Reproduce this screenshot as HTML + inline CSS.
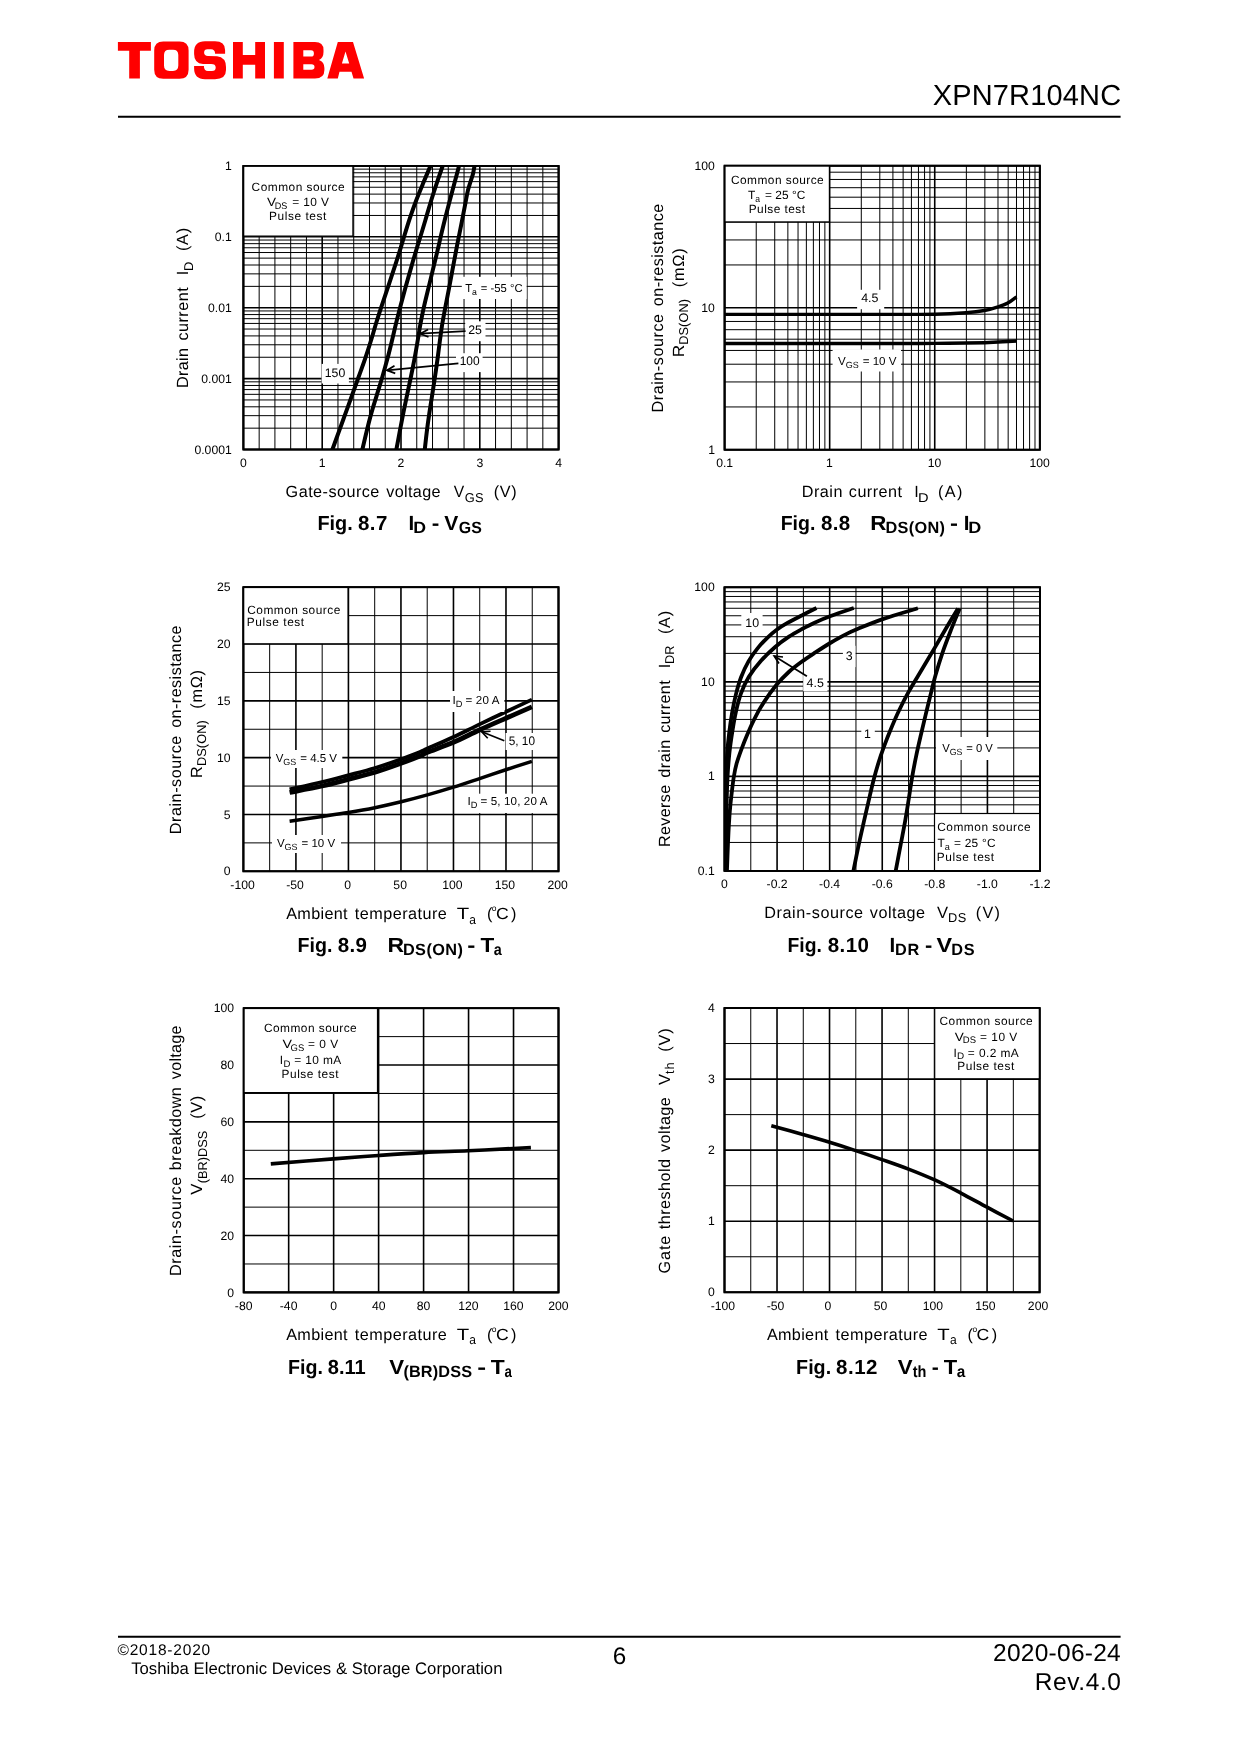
<!DOCTYPE html><html><head><meta charset="utf-8"><style>html,body{margin:0;padding:0;background:#fff}svg{display:block;will-change:transform}text{font-family:"Liberation Sans",sans-serif;text-rendering:geometricPrecision}</style></head><body>
<svg width="1240" height="1754" viewBox="0 0 1240 1754">
<rect width="1240" height="1754" fill="#fff"/>
<path d="M117.9 42H150.9V50.8H139.9V78.5H129.2V50.8H117.9Z" fill="#ff0000" fill-rule="evenodd"/>
<path d="M163.3 41.6H179.5Q188.6 41.6 188.6 50.6V69.8Q188.6 78.8 179.5 78.8H163.3Q154.2 78.8 154.2 69.8V50.6Q154.2 41.6 163.3 41.6Z M169.3 49.7Q164 49.7 164 55V65.6Q164 70.9 169.3 70.9H173Q178.3 70.9 178.3 65.6V55Q178.3 49.7 173 49.7Z" fill="#ff0000" fill-rule="evenodd"/>
<path d="M194.1 52Q194.1 41.2 205 41.2L215 41.2Q225.1 41.2 225.1 50L225.1 53.8L215.1 53.8Q215.1 49.2 211 49.2L207.5 49.2Q204.1 49.2 204.1 52.6Q204.1 56 208 56L217 56.3Q226 57.5 226 67L226 70Q226 79.2 215 79.2L205 79.2Q194.1 79.2 194.1 68L194.1 65.9L203.9 65.9Q203.9 71 208 71L212 71Q215.7 71 215.7 67.5Q215.7 64.1 211 64.1L203 64Q194.1 63.5 194.1 54Z" fill="#ff0000" fill-rule="evenodd"/>
<path d="M233 42H242.8V55.1H255.2V42H265V78.5H255.2V64.8H242.8V78.5H233Z" fill="#ff0000" fill-rule="evenodd"/>
<path d="M273.9 42H283.8V78.5H273.9Z" fill="#ff0000" fill-rule="evenodd"/>
<path d="M293.4 42L315 42Q323.5 42 323.5 50L323.5 52Q323.5 58 319 60Q324.4 62 324.4 68L324.4 70Q324.4 78.5 315 78.5L293.4 78.5Z M303.3 50.2V56.6H311Q313.9 56.6 313.9 53.4Q313.9 50.2 311 50.2Z M303.3 64.2V69.8H311.5Q314.5 69.8 314.5 67Q314.5 64.2 311.5 64.2Z" fill="#ff0000" fill-rule="evenodd"/>
<path d="M327.3 78.5L337.8 42L353 42L364.1 78.5L353.5 78.5L351.5 71.8L339.5 71.8L337.8 78.5Z M345.5 51.4L349.2 63.6L341.9 63.6Z" fill="#ff0000" fill-rule="evenodd"/>
<text x="932.67" y="105.2" font-size="29" textLength="188.41" lengthAdjust="spacing" fill="#000">XPN7R104NC</text>
<line x1="118" y1="116.8" x2="1120.6" y2="116.8" stroke="#000" stroke-width="2"/>
<line x1="118" y1="1636.8" x2="1120.6" y2="1636.8" stroke="#000" stroke-width="2"/>
<text x="117.47" y="1654.8" font-size="15.5" textLength="92.76" lengthAdjust="spacing" fill="#000">©2018-2020</text>
<text x="131.17" y="1673.7" font-size="16.7" textLength="371.28" lengthAdjust="spacing" fill="#000">Toshiba Electronic Devices &amp; Storage Corporation</text>
<text x="612.68" y="1664.3" font-size="24" textLength="13.52" lengthAdjust="spacingAndGlyphs" fill="#000">6</text>
<text x="992.98" y="1660.7" font-size="24.5" textLength="127.77" lengthAdjust="spacing" fill="#000">2020-06-24</text>
<text x="1034.84" y="1689.6" font-size="24.5" textLength="86.07" lengthAdjust="spacing" fill="#000">Rev.4.0</text>
<line x1="259.16" y1="165.9" x2="259.16" y2="449.5" stroke="#000" stroke-width="1"/>
<line x1="274.92" y1="165.9" x2="274.92" y2="449.5" stroke="#000" stroke-width="1"/>
<line x1="290.68" y1="165.9" x2="290.68" y2="449.5" stroke="#000" stroke-width="1"/>
<line x1="306.44" y1="165.9" x2="306.44" y2="449.5" stroke="#000" stroke-width="1"/>
<line x1="337.96" y1="165.9" x2="337.96" y2="449.5" stroke="#000" stroke-width="1"/>
<line x1="353.72" y1="165.9" x2="353.72" y2="449.5" stroke="#000" stroke-width="1"/>
<line x1="369.48" y1="165.9" x2="369.48" y2="449.5" stroke="#000" stroke-width="1"/>
<line x1="385.24" y1="165.9" x2="385.24" y2="449.5" stroke="#000" stroke-width="1"/>
<line x1="416.76" y1="165.9" x2="416.76" y2="449.5" stroke="#000" stroke-width="1"/>
<line x1="432.52" y1="165.9" x2="432.52" y2="449.5" stroke="#000" stroke-width="1"/>
<line x1="448.28" y1="165.9" x2="448.28" y2="449.5" stroke="#000" stroke-width="1"/>
<line x1="464.04" y1="165.9" x2="464.04" y2="449.5" stroke="#000" stroke-width="1"/>
<line x1="495.56" y1="165.9" x2="495.56" y2="449.5" stroke="#000" stroke-width="1"/>
<line x1="511.32" y1="165.9" x2="511.32" y2="449.5" stroke="#000" stroke-width="1"/>
<line x1="527.08" y1="165.9" x2="527.08" y2="449.5" stroke="#000" stroke-width="1"/>
<line x1="542.84" y1="165.9" x2="542.84" y2="449.5" stroke="#000" stroke-width="1"/>
<line x1="243.4" y1="428.16" x2="558.6" y2="428.16" stroke="#000" stroke-width="1"/>
<line x1="243.4" y1="415.67" x2="558.6" y2="415.67" stroke="#000" stroke-width="1"/>
<line x1="243.4" y1="406.81" x2="558.6" y2="406.81" stroke="#000" stroke-width="1"/>
<line x1="243.4" y1="399.94" x2="558.6" y2="399.94" stroke="#000" stroke-width="1"/>
<line x1="243.4" y1="394.33" x2="558.6" y2="394.33" stroke="#000" stroke-width="1"/>
<line x1="243.4" y1="389.58" x2="558.6" y2="389.58" stroke="#000" stroke-width="1"/>
<line x1="243.4" y1="385.47" x2="558.6" y2="385.47" stroke="#000" stroke-width="1"/>
<line x1="243.4" y1="381.84" x2="558.6" y2="381.84" stroke="#000" stroke-width="1"/>
<line x1="243.4" y1="357.26" x2="558.6" y2="357.26" stroke="#000" stroke-width="1"/>
<line x1="243.4" y1="344.77" x2="558.6" y2="344.77" stroke="#000" stroke-width="1"/>
<line x1="243.4" y1="335.91" x2="558.6" y2="335.91" stroke="#000" stroke-width="1"/>
<line x1="243.4" y1="329.04" x2="558.6" y2="329.04" stroke="#000" stroke-width="1"/>
<line x1="243.4" y1="323.43" x2="558.6" y2="323.43" stroke="#000" stroke-width="1"/>
<line x1="243.4" y1="318.68" x2="558.6" y2="318.68" stroke="#000" stroke-width="1"/>
<line x1="243.4" y1="314.57" x2="558.6" y2="314.57" stroke="#000" stroke-width="1"/>
<line x1="243.4" y1="310.94" x2="558.6" y2="310.94" stroke="#000" stroke-width="1"/>
<line x1="243.4" y1="286.36" x2="558.6" y2="286.36" stroke="#000" stroke-width="1"/>
<line x1="243.4" y1="273.87" x2="558.6" y2="273.87" stroke="#000" stroke-width="1"/>
<line x1="243.4" y1="265.01" x2="558.6" y2="265.01" stroke="#000" stroke-width="1"/>
<line x1="243.4" y1="258.14" x2="558.6" y2="258.14" stroke="#000" stroke-width="1"/>
<line x1="243.4" y1="252.53" x2="558.6" y2="252.53" stroke="#000" stroke-width="1"/>
<line x1="243.4" y1="247.78" x2="558.6" y2="247.78" stroke="#000" stroke-width="1"/>
<line x1="243.4" y1="243.67" x2="558.6" y2="243.67" stroke="#000" stroke-width="1"/>
<line x1="243.4" y1="240.04" x2="558.6" y2="240.04" stroke="#000" stroke-width="1"/>
<line x1="243.4" y1="215.46" x2="558.6" y2="215.46" stroke="#000" stroke-width="1"/>
<line x1="243.4" y1="202.97" x2="558.6" y2="202.97" stroke="#000" stroke-width="1"/>
<line x1="243.4" y1="194.11" x2="558.6" y2="194.11" stroke="#000" stroke-width="1"/>
<line x1="243.4" y1="187.24" x2="558.6" y2="187.24" stroke="#000" stroke-width="1"/>
<line x1="243.4" y1="181.63" x2="558.6" y2="181.63" stroke="#000" stroke-width="1"/>
<line x1="243.4" y1="176.88" x2="558.6" y2="176.88" stroke="#000" stroke-width="1"/>
<line x1="243.4" y1="172.77" x2="558.6" y2="172.77" stroke="#000" stroke-width="1"/>
<line x1="243.4" y1="169.14" x2="558.6" y2="169.14" stroke="#000" stroke-width="1"/>
<line x1="243.4" y1="165.9" x2="243.4" y2="449.5" stroke="#000" stroke-width="1.6"/>
<line x1="322.2" y1="165.9" x2="322.2" y2="449.5" stroke="#000" stroke-width="1.6"/>
<line x1="401" y1="165.9" x2="401" y2="449.5" stroke="#000" stroke-width="1.6"/>
<line x1="479.8" y1="165.9" x2="479.8" y2="449.5" stroke="#000" stroke-width="1.6"/>
<line x1="558.6" y1="165.9" x2="558.6" y2="449.5" stroke="#000" stroke-width="1.6"/>
<line x1="243.4" y1="449.5" x2="558.6" y2="449.5" stroke="#000" stroke-width="1.6"/>
<line x1="243.4" y1="378.6" x2="558.6" y2="378.6" stroke="#000" stroke-width="1.6"/>
<line x1="243.4" y1="307.7" x2="558.6" y2="307.7" stroke="#000" stroke-width="1.6"/>
<line x1="243.4" y1="236.8" x2="558.6" y2="236.8" stroke="#000" stroke-width="1.6"/>
<line x1="243.4" y1="165.9" x2="558.6" y2="165.9" stroke="#000" stroke-width="1.6"/>
<rect x="243.4" y="165.9" width="315.2" height="283.6" fill="none" stroke="#000" stroke-width="1.8"/>
<rect x="243.4" y="165.9" width="109.5" height="70.2" fill="#fff" stroke="#000" stroke-width="1.2"/>
<rect x="243.4" y="165.9" width="315.2" height="283.6" fill="none" stroke="#000" stroke-width="1.8"/>
<text x="251.6" y="190.7" font-size="11.9" textLength="93.04" lengthAdjust="spacing" fill="#000">Common source</text>
<text x="266.93" y="206.3" font-size="11.9" textLength="9.06" lengthAdjust="spacingAndGlyphs" fill="#000">V</text>
<text x="274.78" y="208.9" font-size="9.5" textLength="12.57" lengthAdjust="spacingAndGlyphs" fill="#000">DS</text>
<text x="292.2" y="206.3" font-size="11.9" textLength="36.7" lengthAdjust="spacing" fill="#000">= 10 V</text>
<text x="269.05" y="219.5" font-size="11.9" textLength="57.33" lengthAdjust="spacing" fill="#000">Pulse test</text>
<clipPath id="cl1"><rect x="243.4" y="165.9" width="315.2" height="283.6"/></clipPath>
<path d="M331.5 452 C332.75 448.57 336.66 437.82 338.98 431.43 C341.29 425.03 343.26 419.58 345.4 413.65 C347.54 407.72 349.64 401.9 351.82 395.82 C354.01 389.75 356.25 383.51 358.5 377.22 C360.75 370.94 363.22 364.3 365.33 358.1 C367.43 351.9 369.37 345.77 371.15 340 C372.93 334.23 374.28 329.11 376.02 323.48 C377.77 317.84 379.47 312.65 381.6 306.18 C383.73 299.7 386.38 291.99 388.82 284.6 C391.27 277.21 394.24 268.23 396.3 261.82 C398.36 255.42 399.75 250.89 401.2 246.18 C402.65 241.46 403.55 238.28 405.02 233.53 C406.5 228.77 408.21 223.12 410.05 217.65 C411.89 212.18 413.83 206.61 416.07 200.73 C418.32 194.84 420.92 188.64 423.53 182.35 C426.13 176.06 430.34 166.22 431.7 163" fill="none" stroke="#000" stroke-width="4" stroke-linecap="butt" stroke-linejoin="round" clip-path="url(#cl1)"/>
<path d="M361.8 452 C362.6 448.57 365.05 437.82 366.62 431.43 C368.2 425.03 369.56 419.58 371.23 413.65 C372.89 407.72 374.76 401.9 376.6 395.82 C378.44 389.75 380.42 383.51 382.25 377.22 C384.08 370.94 385.95 364.3 387.6 358.1 C389.25 351.9 390.72 345.77 392.12 340 C393.53 334.23 394.64 329.11 396.03 323.48 C397.41 317.84 398.71 312.65 400.43 306.18 C402.14 299.7 404.24 291.99 406.3 284.6 C408.36 277.21 410.92 268.23 412.77 261.82 C414.63 255.42 415.99 250.89 417.43 246.18 C418.86 241.46 419.93 238.28 421.38 233.53 C422.82 228.77 424.5 223.12 426.12 217.65 C427.75 212.18 429.28 206.61 431.1 200.73 C432.92 194.84 434.93 188.64 437.03 182.35 C439.12 176.06 442.59 166.22 443.7 163" fill="none" stroke="#000" stroke-width="4" stroke-linecap="butt" stroke-linejoin="round" clip-path="url(#cl1)"/>
<path d="M395.9 452 C396.55 448.57 398.56 437.82 399.77 431.43 C400.99 425.03 402.02 419.58 403.2 413.65 C404.38 407.72 405.6 401.9 406.88 395.82 C408.15 389.75 409.53 383.51 410.83 377.22 C412.12 370.94 413.46 364.3 414.62 358.1 C415.79 351.9 416.81 345.77 417.8 340 C418.79 334.23 419.5 329.11 420.55 323.48 C421.6 317.84 422.65 312.65 424.1 306.18 C425.55 299.7 427.49 291.99 429.28 284.6 C431.06 277.21 433.28 268.23 434.82 261.82 C436.37 255.42 437.45 250.89 438.55 246.18 C439.65 241.46 440.32 238.28 441.45 233.53 C442.57 228.77 443.92 223.12 445.3 217.65 C446.68 212.18 448.16 206.61 449.73 200.73 C451.29 194.84 453 188.64 454.68 182.35 C456.35 176.06 458.95 166.22 459.8 163" fill="none" stroke="#000" stroke-width="4" stroke-linecap="butt" stroke-linejoin="round" clip-path="url(#cl1)"/>
<path d="M424.5 452 C424.89 448.57 426.03 437.82 426.82 431.43 C427.62 425.03 428.4 419.58 429.28 413.65 C430.15 407.72 431.11 401.9 432.05 395.82 C432.99 389.75 433.99 383.51 434.92 377.22 C435.86 370.94 436.81 364.3 437.65 358.1 C438.49 351.9 439.19 345.77 439.98 340 C440.76 334.23 441.42 329.11 442.35 323.48 C443.28 317.84 444.32 312.65 445.55 306.18 C446.78 299.7 448.32 291.99 449.72 284.6 C451.13 277.21 452.77 268.23 453.98 261.82 C455.18 255.42 456.04 250.89 456.95 246.18 C457.86 241.46 458.5 238.28 459.45 233.53 C460.4 228.77 461.61 222.82 462.62 217.65 C463.64 212.48 464.65 207.03 465.52 202.53 C466.4 198.03 467.05 194.11 467.88 190.65 C468.7 187.19 469.63 184.64 470.5 181.78 C471.37 178.91 472.32 176.58 473.07 173.45 C473.82 170.32 474.68 164.74 475 163" fill="none" stroke="#000" stroke-width="4" stroke-linecap="butt" stroke-linejoin="round" clip-path="url(#cl1)"/>
<rect x="461.8" y="276.8" width="64.8" height="22.2" fill="#fff"/>
<text x="465.17" y="291.8" font-size="11.6" textLength="6.88" lengthAdjust="spacingAndGlyphs" fill="#000">T</text>
<text x="472.05" y="294.8" font-size="9" textLength="4.86" lengthAdjust="spacingAndGlyphs" fill="#000">a</text>
<text x="480.79" y="291.8" font-size="11.6" textLength="41.73" lengthAdjust="spacingAndGlyphs" fill="#000">= -55 °C</text>
<rect x="465.2" y="321.3" width="20.3" height="19.9" fill="#fff"/>
<text x="468.18" y="334.4" font-size="12.4" textLength="13.74" lengthAdjust="spacingAndGlyphs" fill="#000">25</text>
<rect x="456" y="353.2" width="26.6" height="18.9" fill="#fff"/>
<text x="459.7" y="365.4" font-size="12.4" textLength="19.96" lengthAdjust="spacingAndGlyphs" fill="#000">100</text>
<rect x="321.6" y="363.9" width="27.3" height="19.6" fill="#fff"/>
<text x="324.78" y="377.4" font-size="12.4" textLength="20.49" lengthAdjust="spacingAndGlyphs" fill="#000">150</text>
<line x1="465.6" y1="331.2" x2="420.3" y2="333.7" stroke="#000" stroke-width="1.7"/>
<path d="M428.08 329.46 L420.3 333.7 L428.5 337.05" fill="none" stroke="#000" stroke-width="1.7"/>
<line x1="458.4" y1="363.4" x2="386.9" y2="370.4" stroke="#000" stroke-width="1.7"/>
<path d="M394.49 365.84 L386.9 370.4 L395.23 373.4" fill="none" stroke="#000" stroke-width="1.7"/>
<text x="224.98" y="170" font-size="12.2" textLength="6.79" lengthAdjust="spacingAndGlyphs" fill="#000">1</text>
<text x="214.79" y="240.9" font-size="12.2" textLength="16.96" lengthAdjust="spacingAndGlyphs" fill="#000">0.1</text>
<text x="208.02" y="311.8" font-size="12.2" textLength="23.75" lengthAdjust="spacing" fill="#000">0.01</text>
<text x="201.25" y="382.7" font-size="12.2" textLength="30.53" lengthAdjust="spacingAndGlyphs" fill="#000">0.001</text>
<text x="194.42" y="453.6" font-size="12.2" textLength="37.32" lengthAdjust="spacing" fill="#000">0.0001</text>
<text x="239.98" y="467.2" font-size="12.2" textLength="6.79" lengthAdjust="spacingAndGlyphs" fill="#000">0</text>
<text x="318.63" y="467.2" font-size="12.2" textLength="6.79" lengthAdjust="spacingAndGlyphs" fill="#000">1</text>
<text x="397.61" y="467.2" font-size="12.2" textLength="6.79" lengthAdjust="spacingAndGlyphs" fill="#000">2</text>
<text x="476.41" y="467.2" font-size="12.2" textLength="6.79" lengthAdjust="spacingAndGlyphs" fill="#000">3</text>
<text x="555.28" y="467.2" font-size="12.2" textLength="6.79" lengthAdjust="spacingAndGlyphs" fill="#000">4</text>
<g transform="rotate(-90)">
<text x="-387.9" y="188.2" font-size="16.2" textLength="39.95" lengthAdjust="spacing" fill="#000">Drain</text>
<text x="-340.55" y="188.2" font-size="16.2" textLength="53.27" lengthAdjust="spacing" fill="#000">current</text>
<text x="-275.13" y="188.2" font-size="16.2" textLength="4.5" lengthAdjust="spacingAndGlyphs" fill="#000">I</text>
<text x="-270.94" y="192.6" font-size="12.8" textLength="9.35" lengthAdjust="spacingAndGlyphs" fill="#000">D</text>
<text x="-251.07" y="188.2" font-size="16.2" textLength="23.19" lengthAdjust="spacing" fill="#000">(A)</text>
</g>
<text x="285.59" y="497.4" font-size="16.2" textLength="93.78" lengthAdjust="spacing" fill="#000">Gate-source</text>
<text x="386.32" y="497.4" font-size="16.2" textLength="54.2" lengthAdjust="spacing" fill="#000">voltage</text>
<text x="453.82" y="497.4" font-size="16.2" textLength="10.49" lengthAdjust="spacingAndGlyphs" fill="#000">V</text>
<text x="464.86" y="501.9" font-size="12.8" textLength="18.61" lengthAdjust="spacing" fill="#000">GS</text>
<text x="493.83" y="497.4" font-size="16.2" textLength="22.69" lengthAdjust="spacing" fill="#000">(V)</text>
<text x="317.41" y="530" font-size="20.5" font-weight="bold" textLength="35.33" lengthAdjust="spacingAndGlyphs" fill="#000">Fig.</text>
<text x="357.99" y="530" font-size="20.5" font-weight="bold" textLength="29.44" lengthAdjust="spacing" fill="#000">8.7</text>
<text x="408.58" y="530" font-size="20.5" font-weight="bold" textLength="5.7" lengthAdjust="spacingAndGlyphs" fill="#000">I</text>
<text x="413.35" y="533.3" font-size="16.3" font-weight="bold" textLength="12.8" lengthAdjust="spacingAndGlyphs" fill="#000">D</text>
<text x="431.79" y="530" font-size="20.5" font-weight="bold" textLength="7.58" lengthAdjust="spacingAndGlyphs" fill="#000">-</text>
<text x="444.19" y="530" font-size="20.5" font-weight="bold" textLength="14.05" lengthAdjust="spacingAndGlyphs" fill="#000">V</text>
<text x="458.86" y="533.3" font-size="16.3" font-weight="bold" textLength="22.99" lengthAdjust="spacingAndGlyphs" fill="#000">GS</text>
<line x1="756.23" y1="165.7" x2="756.23" y2="449.7" stroke="#000" stroke-width="1"/>
<line x1="774.73" y1="165.7" x2="774.73" y2="449.7" stroke="#000" stroke-width="1"/>
<line x1="787.86" y1="165.7" x2="787.86" y2="449.7" stroke="#000" stroke-width="1"/>
<line x1="798.04" y1="165.7" x2="798.04" y2="449.7" stroke="#000" stroke-width="1"/>
<line x1="806.36" y1="165.7" x2="806.36" y2="449.7" stroke="#000" stroke-width="1"/>
<line x1="813.39" y1="165.7" x2="813.39" y2="449.7" stroke="#000" stroke-width="1"/>
<line x1="819.48" y1="165.7" x2="819.48" y2="449.7" stroke="#000" stroke-width="1"/>
<line x1="824.86" y1="165.7" x2="824.86" y2="449.7" stroke="#000" stroke-width="1"/>
<line x1="861.29" y1="165.7" x2="861.29" y2="449.7" stroke="#000" stroke-width="1"/>
<line x1="879.8" y1="165.7" x2="879.8" y2="449.7" stroke="#000" stroke-width="1"/>
<line x1="892.92" y1="165.7" x2="892.92" y2="449.7" stroke="#000" stroke-width="1"/>
<line x1="903.11" y1="165.7" x2="903.11" y2="449.7" stroke="#000" stroke-width="1"/>
<line x1="911.42" y1="165.7" x2="911.42" y2="449.7" stroke="#000" stroke-width="1"/>
<line x1="918.46" y1="165.7" x2="918.46" y2="449.7" stroke="#000" stroke-width="1"/>
<line x1="924.55" y1="165.7" x2="924.55" y2="449.7" stroke="#000" stroke-width="1"/>
<line x1="929.93" y1="165.7" x2="929.93" y2="449.7" stroke="#000" stroke-width="1"/>
<line x1="966.36" y1="165.7" x2="966.36" y2="449.7" stroke="#000" stroke-width="1"/>
<line x1="984.86" y1="165.7" x2="984.86" y2="449.7" stroke="#000" stroke-width="1"/>
<line x1="997.99" y1="165.7" x2="997.99" y2="449.7" stroke="#000" stroke-width="1"/>
<line x1="1008.17" y1="165.7" x2="1008.17" y2="449.7" stroke="#000" stroke-width="1"/>
<line x1="1016.49" y1="165.7" x2="1016.49" y2="449.7" stroke="#000" stroke-width="1"/>
<line x1="1023.52" y1="165.7" x2="1023.52" y2="449.7" stroke="#000" stroke-width="1"/>
<line x1="1029.62" y1="165.7" x2="1029.62" y2="449.7" stroke="#000" stroke-width="1"/>
<line x1="1034.99" y1="165.7" x2="1034.99" y2="449.7" stroke="#000" stroke-width="1"/>
<line x1="724.6" y1="406.95" x2="1039.8" y2="406.95" stroke="#000" stroke-width="1"/>
<line x1="724.6" y1="381.95" x2="1039.8" y2="381.95" stroke="#000" stroke-width="1"/>
<line x1="724.6" y1="364.21" x2="1039.8" y2="364.21" stroke="#000" stroke-width="1"/>
<line x1="724.6" y1="350.45" x2="1039.8" y2="350.45" stroke="#000" stroke-width="1"/>
<line x1="724.6" y1="339.2" x2="1039.8" y2="339.2" stroke="#000" stroke-width="1"/>
<line x1="724.6" y1="329.7" x2="1039.8" y2="329.7" stroke="#000" stroke-width="1"/>
<line x1="724.6" y1="321.46" x2="1039.8" y2="321.46" stroke="#000" stroke-width="1"/>
<line x1="724.6" y1="314.2" x2="1039.8" y2="314.2" stroke="#000" stroke-width="1"/>
<line x1="724.6" y1="264.95" x2="1039.8" y2="264.95" stroke="#000" stroke-width="1"/>
<line x1="724.6" y1="239.95" x2="1039.8" y2="239.95" stroke="#000" stroke-width="1"/>
<line x1="724.6" y1="222.21" x2="1039.8" y2="222.21" stroke="#000" stroke-width="1"/>
<line x1="724.6" y1="208.45" x2="1039.8" y2="208.45" stroke="#000" stroke-width="1"/>
<line x1="724.6" y1="197.2" x2="1039.8" y2="197.2" stroke="#000" stroke-width="1"/>
<line x1="724.6" y1="187.7" x2="1039.8" y2="187.7" stroke="#000" stroke-width="1"/>
<line x1="724.6" y1="179.46" x2="1039.8" y2="179.46" stroke="#000" stroke-width="1"/>
<line x1="724.6" y1="172.2" x2="1039.8" y2="172.2" stroke="#000" stroke-width="1"/>
<line x1="724.6" y1="165.7" x2="724.6" y2="449.7" stroke="#000" stroke-width="1.6"/>
<line x1="829.67" y1="165.7" x2="829.67" y2="449.7" stroke="#000" stroke-width="1.6"/>
<line x1="934.73" y1="165.7" x2="934.73" y2="449.7" stroke="#000" stroke-width="1.6"/>
<line x1="1039.8" y1="165.7" x2="1039.8" y2="449.7" stroke="#000" stroke-width="1.6"/>
<line x1="724.6" y1="449.7" x2="1039.8" y2="449.7" stroke="#000" stroke-width="1.6"/>
<line x1="724.6" y1="307.7" x2="1039.8" y2="307.7" stroke="#000" stroke-width="1.6"/>
<line x1="724.6" y1="165.7" x2="1039.8" y2="165.7" stroke="#000" stroke-width="1.6"/>
<rect x="724.6" y="165.7" width="315.2" height="284" fill="none" stroke="#000" stroke-width="1.8"/>
<clipPath id="cl2"><rect x="724.6" y="165.7" width="315.2" height="284"/></clipPath>
<rect x="724.6" y="165.7" width="104.8" height="56.2" fill="#fff" stroke="#000" stroke-width="1.2"/>
<rect x="724.6" y="165.7" width="315.2" height="284" fill="none" stroke="#000" stroke-width="1.8"/>
<text x="731" y="183.7" font-size="11.9" textLength="92.74" lengthAdjust="spacing" fill="#000">Common source</text>
<text x="748.06" y="199.3" font-size="11.9" textLength="7.29" lengthAdjust="spacingAndGlyphs" fill="#000">T</text>
<text x="755.36" y="201.9" font-size="9.5" textLength="4.75" lengthAdjust="spacingAndGlyphs" fill="#000">a</text>
<text x="765" y="199.3" font-size="11.9" textLength="40.46" lengthAdjust="spacing" fill="#000">= 25 °C</text>
<text x="748.65" y="212.9" font-size="11.9" textLength="56.43" lengthAdjust="spacing" fill="#000">Pulse test</text>
<path d="M722 314.4 C735 314.4 773.67 314.4 800 314.4 C826.33 314.4 857.53 314.43 880 314.4 C902.47 314.37 920.47 314.48 934.8 314.2 C949.13 313.92 957.72 313.32 966 312.7 C974.28 312.08 979.28 311.43 984.5 310.5 C989.72 309.57 993.42 308.33 997.3 307.1 C1001.18 305.87 1004.6 304.8 1007.8 303.1 C1011 301.4 1015.05 297.93 1016.5 296.9" fill="none" stroke="#000" stroke-width="3.4" stroke-linecap="butt" stroke-linejoin="round" clip-path="url(#cl2)"/>
<path d="M722 343.5 C735 343.5 773.67 343.5 800 343.5 C826.33 343.5 857.53 343.52 880 343.5 C902.47 343.48 917.38 343.53 934.8 343.4 C952.22 343.27 972.33 343.02 984.5 342.7 C996.67 342.38 1002.4 341.78 1007.8 341.5 C1013.2 341.22 1015.38 341.08 1016.9 341" fill="none" stroke="#000" stroke-width="3.4" stroke-linecap="butt" stroke-linejoin="round" clip-path="url(#cl2)"/>
<rect x="857.1" y="289.8" width="27.1" height="19.4" fill="#fff"/>
<text x="861.21" y="302.4" font-size="12.4" textLength="17.24" lengthAdjust="spacingAndGlyphs" fill="#000">4.5</text>
<rect x="832.6" y="349.5" width="68.4" height="22" fill="#fff"/>
<text x="837.94" y="364.9" font-size="11.6" textLength="7.73" lengthAdjust="spacingAndGlyphs" fill="#000">V</text>
<text x="845.67" y="367.9" font-size="9" textLength="12.99" lengthAdjust="spacingAndGlyphs" fill="#000">GS</text>
<text x="862.67" y="364.9" font-size="11.6" textLength="33.84" lengthAdjust="spacingAndGlyphs" fill="#000">= 10 V</text>
<text x="694.51" y="169.8" font-size="12.2" textLength="20.36" lengthAdjust="spacing" fill="#000">100</text>
<text x="701.28" y="311.8" font-size="12.2" textLength="13.57" lengthAdjust="spacing" fill="#000">10</text>
<text x="708.18" y="453.8" font-size="12.2" textLength="6.79" lengthAdjust="spacingAndGlyphs" fill="#000">1</text>
<text x="716.15" y="467.2" font-size="12.2" textLength="16.96" lengthAdjust="spacing" fill="#000">0.1</text>
<text x="826.1" y="467.2" font-size="12.2" textLength="6.79" lengthAdjust="spacingAndGlyphs" fill="#000">1</text>
<text x="927.72" y="467.2" font-size="12.2" textLength="13.57" lengthAdjust="spacing" fill="#000">10</text>
<text x="1029.4" y="467.2" font-size="12.2" textLength="20.36" lengthAdjust="spacing" fill="#000">100</text>
<g transform="rotate(-90)">
<text x="-412.5" y="663.1" font-size="16.2" textLength="98.51" lengthAdjust="spacing" fill="#000">Drain-source</text>
<text x="-306.15" y="663.1" font-size="16.2" textLength="102.33" lengthAdjust="spacing" fill="#000">on-resistance</text>
<text x="-357.18" y="683.5" font-size="16.2" textLength="12.5" lengthAdjust="spacingAndGlyphs" fill="#000">R</text>
<text x="-344.72" y="688.2" font-size="12.8" textLength="45.66" lengthAdjust="spacing" fill="#000">DS(ON)</text>
<text x="-287.27" y="683.5" font-size="16.2" textLength="38.97" lengthAdjust="spacing" fill="#000">(mΩ)</text>
</g>
<text x="801.8" y="497.2" font-size="16.2" textLength="40.65" lengthAdjust="spacing" fill="#000">Drain</text>
<text x="848.85" y="497.2" font-size="16.2" textLength="53.07" lengthAdjust="spacing" fill="#000">current</text>
<text x="914.37" y="497.2" font-size="16.2" textLength="4.5" lengthAdjust="spacingAndGlyphs" fill="#000">I</text>
<text x="918.03" y="501.7" font-size="12.8" textLength="10.56" lengthAdjust="spacingAndGlyphs" fill="#000">D</text>
<text x="938.03" y="497.2" font-size="16.2" textLength="24.29" lengthAdjust="spacing" fill="#000">(A)</text>
<text x="780.63" y="530" font-size="20.5" font-weight="bold" textLength="34.68" lengthAdjust="spacingAndGlyphs" fill="#000">Fig.</text>
<text x="820.88" y="530" font-size="20.5" font-weight="bold" textLength="29.33" lengthAdjust="spacing" fill="#000">8.8</text>
<text x="870.35" y="530" font-size="20.5" font-weight="bold" textLength="16.15" lengthAdjust="spacingAndGlyphs" fill="#000">R</text>
<text x="885.44" y="533.3" font-size="16.3" font-weight="bold" textLength="59.48" lengthAdjust="spacing" fill="#000">DS(ON)</text>
<text x="950.04" y="530" font-size="20.5" font-weight="bold" textLength="7.97" lengthAdjust="spacingAndGlyphs" fill="#000">-</text>
<text x="963.78" y="530" font-size="20.5" font-weight="bold" textLength="5.7" lengthAdjust="spacingAndGlyphs" fill="#000">I</text>
<text x="968.23" y="533.3" font-size="16.3" font-weight="bold" textLength="13.03" lengthAdjust="spacingAndGlyphs" fill="#000">D</text>
<line x1="269.66" y1="587.2" x2="269.66" y2="871.3" stroke="#000" stroke-width="1"/>
<line x1="322.18" y1="587.2" x2="322.18" y2="871.3" stroke="#000" stroke-width="1"/>
<line x1="374.69" y1="587.2" x2="374.69" y2="871.3" stroke="#000" stroke-width="1"/>
<line x1="427.21" y1="587.2" x2="427.21" y2="871.3" stroke="#000" stroke-width="1"/>
<line x1="479.73" y1="587.2" x2="479.73" y2="871.3" stroke="#000" stroke-width="1"/>
<line x1="532.24" y1="587.2" x2="532.24" y2="871.3" stroke="#000" stroke-width="1"/>
<line x1="243.4" y1="842.89" x2="558.5" y2="842.89" stroke="#000" stroke-width="1"/>
<line x1="243.4" y1="786.07" x2="558.5" y2="786.07" stroke="#000" stroke-width="1"/>
<line x1="243.4" y1="729.25" x2="558.5" y2="729.25" stroke="#000" stroke-width="1"/>
<line x1="243.4" y1="672.43" x2="558.5" y2="672.43" stroke="#000" stroke-width="1"/>
<line x1="243.4" y1="615.61" x2="558.5" y2="615.61" stroke="#000" stroke-width="1"/>
<line x1="243.4" y1="587.2" x2="243.4" y2="871.3" stroke="#000" stroke-width="1.6"/>
<line x1="295.92" y1="587.2" x2="295.92" y2="871.3" stroke="#000" stroke-width="1.6"/>
<line x1="348.43" y1="587.2" x2="348.43" y2="871.3" stroke="#000" stroke-width="1.6"/>
<line x1="400.95" y1="587.2" x2="400.95" y2="871.3" stroke="#000" stroke-width="1.6"/>
<line x1="453.47" y1="587.2" x2="453.47" y2="871.3" stroke="#000" stroke-width="1.6"/>
<line x1="505.98" y1="587.2" x2="505.98" y2="871.3" stroke="#000" stroke-width="1.6"/>
<line x1="558.5" y1="587.2" x2="558.5" y2="871.3" stroke="#000" stroke-width="1.6"/>
<line x1="243.4" y1="871.3" x2="558.5" y2="871.3" stroke="#000" stroke-width="1.6"/>
<line x1="243.4" y1="814.48" x2="558.5" y2="814.48" stroke="#000" stroke-width="1.6"/>
<line x1="243.4" y1="757.66" x2="558.5" y2="757.66" stroke="#000" stroke-width="1.6"/>
<line x1="243.4" y1="700.84" x2="558.5" y2="700.84" stroke="#000" stroke-width="1.6"/>
<line x1="243.4" y1="644.02" x2="558.5" y2="644.02" stroke="#000" stroke-width="1.6"/>
<line x1="243.4" y1="587.2" x2="558.5" y2="587.2" stroke="#000" stroke-width="1.6"/>
<rect x="243.4" y="587.2" width="315.1" height="284.1" fill="none" stroke="#000" stroke-width="1.8"/>
<clipPath id="cl3"><rect x="243.4" y="587.2" width="315.1" height="284.1"/></clipPath>
<rect x="243.4" y="587.2" width="104.6" height="56.6" fill="#fff" stroke="#000" stroke-width="1.2"/>
<rect x="243.4" y="587.2" width="315.1" height="284.1" fill="none" stroke="#000" stroke-width="1.8"/>
<text x="247.21" y="613.7" font-size="11.9" textLength="93.04" lengthAdjust="spacing" fill="#000">Common source</text>
<text x="246.85" y="626.4" font-size="11.9" textLength="57.33" lengthAdjust="spacing" fill="#000">Pulse test</text>
<path d="M289.6 789.3 C295 788.08 312.25 784.33 322 782 C331.75 779.67 339.25 777.63 348.1 775.3 C356.95 772.97 366.28 770.67 375.1 768 C383.92 765.33 393.52 761.97 401 759.3 C408.48 756.63 415.58 753.78 420 752 C424.42 750.22 421.92 751.1 427.5 748.6 C433.08 746.1 444.85 741.03 453.5 737 C462.15 732.97 470.65 728.6 479.4 724.4 C488.15 720.2 497.25 715.93 506 711.8 C514.75 707.67 527.58 701.63 531.9 699.6" fill="none" stroke="#000" stroke-width="3.8" stroke-linecap="butt" stroke-linejoin="round"/>
<path d="M289.6 792.5 C295 791.42 312.25 788.18 322 786 C331.75 783.82 339.25 781.7 348.1 779.4 C356.95 777.1 366.28 774.88 375.1 772.2 C383.92 769.52 393.52 766 401 763.3 C408.48 760.6 415.58 757.83 420 756 C424.42 754.17 421.92 754.58 427.5 752.3 C433.08 750.02 444.85 746.02 453.5 742.3 C462.15 738.58 470.65 734.02 479.4 730 C488.15 725.98 497.25 722.05 506 718.2 C514.75 714.35 527.58 708.78 531.9 706.9" fill="none" stroke="#000" stroke-width="4.8" stroke-linecap="butt" stroke-linejoin="round"/>
<path d="M289.6 821.2 C294.74 820.45 310.64 818.15 320.43 816.7 C330.21 815.25 339.26 814 348.33 812.5 C357.39 811 366.02 809.49 374.83 807.7 C383.63 805.91 392.39 803.89 401.15 801.75 C409.91 799.61 418.65 797.31 427.38 794.88 C436.1 792.44 444.78 789.87 453.48 787.15 C462.18 784.43 470.85 781.45 479.57 778.55 C488.3 775.65 497.1 772.61 505.83 769.75 C514.55 766.89 527.55 762.79 531.9 761.4" fill="none" stroke="#000" stroke-width="3.5" stroke-linecap="butt" stroke-linejoin="round"/>
<rect x="450" y="691" width="54.4" height="21" fill="#fff"/>
<text x="452.53" y="704.2" font-size="11.6" textLength="3.3" lengthAdjust="spacingAndGlyphs" fill="#000">I</text>
<text x="455.83" y="707.2" font-size="9" textLength="6.65" lengthAdjust="spacingAndGlyphs" fill="#000">D</text>
<text x="465.56" y="704.2" font-size="11.6" textLength="33.98" lengthAdjust="spacing" fill="#000">= 20 A</text>
<rect x="505.6" y="733" width="30.2" height="17" fill="#fff"/>
<text x="508.73" y="745.3" font-size="12.4" textLength="26.28" lengthAdjust="spacingAndGlyphs" fill="#000">5, 10</text>
<line x1="504.3" y1="740.8" x2="481.7" y2="731.8" stroke="#000" stroke-width="1.7"/>
<path d="M490.54 731.23 L481.7 731.8 L487.73 738.29" fill="none" stroke="#000" stroke-width="1.7"/>
<rect x="270.9" y="750" width="71.4" height="18" fill="#fff"/>
<text x="275.64" y="762.3" font-size="11.6" textLength="7.69" lengthAdjust="spacingAndGlyphs" fill="#000">V</text>
<text x="283.33" y="765.3" font-size="9" textLength="12.92" lengthAdjust="spacingAndGlyphs" fill="#000">GS</text>
<text x="300.23" y="762.3" font-size="11.6" textLength="36.85" lengthAdjust="spacingAndGlyphs" fill="#000">= 4.5 V</text>
<rect x="464.5" y="793.7" width="84.5" height="19.3" fill="#fff"/>
<text x="467.53" y="804.6" font-size="11.6" textLength="3.29" lengthAdjust="spacingAndGlyphs" fill="#000">I</text>
<text x="470.83" y="807.6" font-size="9" textLength="6.64" lengthAdjust="spacingAndGlyphs" fill="#000">D</text>
<text x="480.55" y="804.6" font-size="11.6" textLength="66.89" lengthAdjust="spacing" fill="#000">= 5, 10, 20 A</text>
<rect x="272" y="835" width="69" height="18" fill="#fff"/>
<text x="276.94" y="847" font-size="11.6" textLength="7.68" lengthAdjust="spacingAndGlyphs" fill="#000">V</text>
<text x="284.62" y="850" font-size="9" textLength="12.91" lengthAdjust="spacingAndGlyphs" fill="#000">GS</text>
<text x="301.5" y="847" font-size="11.6" textLength="33.61" lengthAdjust="spacingAndGlyphs" fill="#000">= 10 V</text>
<text x="223.76" y="875.4" font-size="12.2" textLength="6.79" lengthAdjust="spacingAndGlyphs" fill="#000">0</text>
<text x="223.82" y="818.58" font-size="12.2" textLength="6.79" lengthAdjust="spacingAndGlyphs" fill="#000">5</text>
<text x="216.99" y="761.76" font-size="12.2" textLength="13.57" lengthAdjust="spacingAndGlyphs" fill="#000">10</text>
<text x="217.05" y="704.94" font-size="12.2" textLength="13.57" lengthAdjust="spacing" fill="#000">15</text>
<text x="216.98" y="648.12" font-size="12.2" textLength="13.57" lengthAdjust="spacingAndGlyphs" fill="#000">20</text>
<text x="217.05" y="591.3" font-size="12.2" textLength="13.57" lengthAdjust="spacingAndGlyphs" fill="#000">25</text>
<text x="230.34" y="888.9" font-size="12.2" textLength="24.42" lengthAdjust="spacingAndGlyphs" fill="#000">-100</text>
<text x="286.24" y="888.9" font-size="12.2" textLength="17.63" lengthAdjust="spacing" fill="#000">-50</text>
<text x="344.22" y="888.9" font-size="12.2" textLength="6.79" lengthAdjust="spacingAndGlyphs" fill="#000">0</text>
<text x="393.35" y="888.9" font-size="12.2" textLength="13.57" lengthAdjust="spacingAndGlyphs" fill="#000">50</text>
<text x="442.27" y="888.9" font-size="12.2" textLength="20.36" lengthAdjust="spacing" fill="#000">100</text>
<text x="494.78" y="888.9" font-size="12.2" textLength="20.36" lengthAdjust="spacingAndGlyphs" fill="#000">150</text>
<text x="547.45" y="888.9" font-size="12.2" textLength="20.36" lengthAdjust="spacing" fill="#000">200</text>
<g transform="rotate(-90)">
<text x="-834.2" y="181.1" font-size="16.2" textLength="98.51" lengthAdjust="spacing" fill="#000">Drain-source</text>
<text x="-727.85" y="181.1" font-size="16.2" textLength="102.33" lengthAdjust="spacing" fill="#000">on-resistance</text>
<text x="-778.09" y="201.9" font-size="16.2" textLength="11.65" lengthAdjust="spacingAndGlyphs" fill="#000">R</text>
<text x="-766.12" y="206.4" font-size="12.8" textLength="45.96" lengthAdjust="spacing" fill="#000">DS(ON)</text>
<text x="-708.67" y="201.9" font-size="16.2" textLength="38.57" lengthAdjust="spacing" fill="#000">(mΩ)</text>
</g>
<text x="286.2" y="919.4" font-size="16.2" textLength="61.34" lengthAdjust="spacing" fill="#000">Ambient</text>
<text x="354.86" y="919.4" font-size="16.2" textLength="92" lengthAdjust="spacing" fill="#000">temperature</text>
<text x="456.69" y="919.4" font-size="16.2" textLength="12.43" lengthAdjust="spacingAndGlyphs" fill="#000">T</text>
<text x="469.22" y="923.6" font-size="12.8" textLength="6.7" lengthAdjust="spacingAndGlyphs" fill="#000">a</text>
<text x="486.88" y="919.4" font-size="16.2" textLength="5.4" lengthAdjust="spacingAndGlyphs" fill="#000">(</text>
<text x="491.79" y="911.1" font-size="8.5" textLength="4.73" lengthAdjust="spacingAndGlyphs" fill="#000">o</text>
<text x="495.92" y="919.4" font-size="16.2" textLength="12.74" lengthAdjust="spacingAndGlyphs" fill="#000">C</text>
<text x="510.97" y="919.4" font-size="16.2" textLength="5.4" lengthAdjust="spacingAndGlyphs" fill="#000">)</text>
<text x="297.62" y="951.6" font-size="20.5" font-weight="bold" textLength="34.9" lengthAdjust="spacingAndGlyphs" fill="#000">Fig.</text>
<text x="337.69" y="951.6" font-size="20.5" font-weight="bold" textLength="29.34" lengthAdjust="spacing" fill="#000">8.9</text>
<text x="387.51" y="951.6" font-size="20.5" font-weight="bold" textLength="16.6" lengthAdjust="spacingAndGlyphs" fill="#000">R</text>
<text x="402.94" y="954.9" font-size="16.3" font-weight="bold" textLength="59.98" lengthAdjust="spacing" fill="#000">DS(ON)</text>
<text x="467.33" y="951.6" font-size="20.5" font-weight="bold" textLength="8.1" lengthAdjust="spacingAndGlyphs" fill="#000">-</text>
<text x="480.47" y="951.6" font-size="20.5" font-weight="bold" textLength="13.77" lengthAdjust="spacingAndGlyphs" fill="#000">T</text>
<text x="493.87" y="954.9" font-size="16.3" font-weight="bold" textLength="8" lengthAdjust="spacingAndGlyphs" fill="#000">a</text>
<line x1="750.79" y1="587.3" x2="750.79" y2="870.9" stroke="#000" stroke-width="1"/>
<line x1="803.38" y1="587.3" x2="803.38" y2="870.9" stroke="#000" stroke-width="1"/>
<line x1="855.96" y1="587.3" x2="855.96" y2="870.9" stroke="#000" stroke-width="1"/>
<line x1="908.54" y1="587.3" x2="908.54" y2="870.9" stroke="#000" stroke-width="1"/>
<line x1="961.12" y1="587.3" x2="961.12" y2="870.9" stroke="#000" stroke-width="1"/>
<line x1="1013.71" y1="587.3" x2="1013.71" y2="870.9" stroke="#000" stroke-width="1"/>
<line x1="724.5" y1="842.44" x2="1040" y2="842.44" stroke="#000" stroke-width="1"/>
<line x1="724.5" y1="825.8" x2="1040" y2="825.8" stroke="#000" stroke-width="1"/>
<line x1="724.5" y1="813.99" x2="1040" y2="813.99" stroke="#000" stroke-width="1"/>
<line x1="724.5" y1="804.82" x2="1040" y2="804.82" stroke="#000" stroke-width="1"/>
<line x1="724.5" y1="797.34" x2="1040" y2="797.34" stroke="#000" stroke-width="1"/>
<line x1="724.5" y1="791.01" x2="1040" y2="791.01" stroke="#000" stroke-width="1"/>
<line x1="724.5" y1="785.53" x2="1040" y2="785.53" stroke="#000" stroke-width="1"/>
<line x1="724.5" y1="780.69" x2="1040" y2="780.69" stroke="#000" stroke-width="1"/>
<line x1="724.5" y1="747.91" x2="1040" y2="747.91" stroke="#000" stroke-width="1"/>
<line x1="724.5" y1="731.26" x2="1040" y2="731.26" stroke="#000" stroke-width="1"/>
<line x1="724.5" y1="719.45" x2="1040" y2="719.45" stroke="#000" stroke-width="1"/>
<line x1="724.5" y1="710.29" x2="1040" y2="710.29" stroke="#000" stroke-width="1"/>
<line x1="724.5" y1="702.81" x2="1040" y2="702.81" stroke="#000" stroke-width="1"/>
<line x1="724.5" y1="696.48" x2="1040" y2="696.48" stroke="#000" stroke-width="1"/>
<line x1="724.5" y1="690.99" x2="1040" y2="690.99" stroke="#000" stroke-width="1"/>
<line x1="724.5" y1="686.16" x2="1040" y2="686.16" stroke="#000" stroke-width="1"/>
<line x1="724.5" y1="653.38" x2="1040" y2="653.38" stroke="#000" stroke-width="1"/>
<line x1="724.5" y1="636.73" x2="1040" y2="636.73" stroke="#000" stroke-width="1"/>
<line x1="724.5" y1="624.92" x2="1040" y2="624.92" stroke="#000" stroke-width="1"/>
<line x1="724.5" y1="615.76" x2="1040" y2="615.76" stroke="#000" stroke-width="1"/>
<line x1="724.5" y1="608.27" x2="1040" y2="608.27" stroke="#000" stroke-width="1"/>
<line x1="724.5" y1="601.94" x2="1040" y2="601.94" stroke="#000" stroke-width="1"/>
<line x1="724.5" y1="596.46" x2="1040" y2="596.46" stroke="#000" stroke-width="1"/>
<line x1="724.5" y1="591.63" x2="1040" y2="591.63" stroke="#000" stroke-width="1"/>
<line x1="724.5" y1="587.3" x2="724.5" y2="870.9" stroke="#000" stroke-width="1.6"/>
<line x1="777.08" y1="587.3" x2="777.08" y2="870.9" stroke="#000" stroke-width="1.6"/>
<line x1="829.67" y1="587.3" x2="829.67" y2="870.9" stroke="#000" stroke-width="1.6"/>
<line x1="882.25" y1="587.3" x2="882.25" y2="870.9" stroke="#000" stroke-width="1.6"/>
<line x1="934.83" y1="587.3" x2="934.83" y2="870.9" stroke="#000" stroke-width="1.6"/>
<line x1="987.42" y1="587.3" x2="987.42" y2="870.9" stroke="#000" stroke-width="1.6"/>
<line x1="1040" y1="587.3" x2="1040" y2="870.9" stroke="#000" stroke-width="1.6"/>
<line x1="724.5" y1="870.9" x2="1040" y2="870.9" stroke="#000" stroke-width="1.6"/>
<line x1="724.5" y1="776.37" x2="1040" y2="776.37" stroke="#000" stroke-width="1.6"/>
<line x1="724.5" y1="681.83" x2="1040" y2="681.83" stroke="#000" stroke-width="1.6"/>
<line x1="724.5" y1="587.3" x2="1040" y2="587.3" stroke="#000" stroke-width="1.6"/>
<rect x="724.5" y="587.3" width="315.5" height="283.6" fill="none" stroke="#000" stroke-width="1.8"/>
<clipPath id="cl4"><rect x="724.5" y="587.3" width="315.5" height="283.6"/></clipPath>
<path d="M725.6 872 C725.62 866.4 725.72 849.41 725.75 838.42 C725.78 827.44 725.75 816.33 725.8 806.1 C725.85 795.87 725.85 785.85 726.07 777.05 C726.3 768.25 726.62 760.77 727.15 753.3 C727.68 745.82 728.42 738.98 729.25 732.2 C730.08 725.42 731.06 718.83 732.15 712.6 C733.24 706.38 734.32 700.74 735.8 694.85 C737.28 688.96 738.93 682.86 741.05 677.27 C743.17 671.69 745.75 666.17 748.5 661.35 C751.25 656.53 754.42 652.3 757.55 648.38 C760.68 644.45 764.08 640.89 767.27 637.77 C770.47 634.66 773.29 632.22 776.73 629.7 C780.16 627.18 783.62 625.07 787.88 622.65 C792.13 620.23 797.48 617.64 802.25 615.2 C807.02 612.76 814.12 609.2 816.5 608" fill="none" stroke="#000" stroke-width="3.8" stroke-linecap="butt" stroke-linejoin="round" clip-path="url(#cl4)"/>
<path d="M725.8 872 C725.83 867.42 725.86 855 725.97 844.52 C726.09 834.05 726.22 820.4 726.48 809.15 C726.73 797.9 727.04 786.36 727.52 777.05 C728.01 767.74 728.59 760.77 729.38 753.3 C730.16 745.82 731.16 739.11 732.25 732.2 C733.34 725.29 734.47 718.33 735.92 711.85 C737.38 705.38 738.85 699.19 741 693.35 C743.15 687.51 745.55 682.18 748.85 676.8 C752.15 671.42 756.41 666.02 760.8 661.05 C765.19 656.07 770.48 651.02 775.17 646.95 C779.87 642.88 784.53 639.62 788.98 636.65 C793.42 633.68 797.56 631.48 801.82 629.15 C806.09 626.82 809.63 624.88 814.55 622.65 C819.47 620.42 824.81 618.19 831.35 615.75 C837.89 613.31 850.06 609.29 853.8 608" fill="none" stroke="#000" stroke-width="3.8" stroke-linecap="butt" stroke-linejoin="round" clip-path="url(#cl4)"/>
<path d="M726.9 872 C727.07 867.5 727.58 853.12 727.92 845 C728.27 836.88 728.58 829.75 728.98 823.27 C729.37 816.8 729.77 811.55 730.27 806.12 C730.77 800.7 731.38 795.65 731.97 790.75 C732.57 785.85 733.05 781.23 733.83 776.7 C734.6 772.17 735.32 768.17 736.6 763.58 C737.88 758.98 739.65 754.13 741.5 749.12 C743.35 744.12 745.57 738.61 747.72 733.55 C749.88 728.49 751.77 723.97 754.45 718.78 C757.13 713.58 760.12 708.03 763.8 702.38 C767.48 696.72 772.3 689.97 776.55 684.82 C780.8 679.67 785.12 675.32 789.3 671.48 C793.47 667.63 797.25 664.92 801.6 661.75 C805.95 658.58 810.72 655.51 815.42 652.42 C820.12 649.34 825.16 646.06 829.8 643.25 C834.44 640.44 838.39 638.07 843.28 635.58 C848.16 633.08 852.28 631.13 859.1 628.3 C865.92 625.47 874.38 621.91 884.18 618.58 C893.98 615.24 912.28 610.01 917.9 608.3" fill="none" stroke="#000" stroke-width="3.8" stroke-linecap="butt" stroke-linejoin="round" clip-path="url(#cl4)"/>
<path d="M853.2 872 C854.13 867.4 857.04 852.73 858.8 844.43 C860.56 836.12 862.19 829.17 863.77 822.15 C865.36 815.13 866.74 809.14 868.32 802.32 C869.91 795.51 871.56 787.93 873.28 781.25 C874.99 774.57 876.84 768 878.62 762.23 C880.41 756.45 882.02 751.94 883.97 746.6 C885.93 741.26 887.9 736.11 890.38 730.17 C892.85 724.24 895.67 717.51 898.8 710.98 C901.93 704.44 905.38 697.75 909.15 690.95 C912.92 684.15 917.24 677.25 921.42 670.2 C925.61 663.15 930.11 655.66 934.25 648.62 C938.39 641.59 942.29 634.69 946.25 628 C950.21 621.31 956.04 611.75 958 608.5" fill="none" stroke="#000" stroke-width="3.8" stroke-linecap="butt" stroke-linejoin="round" clip-path="url(#cl4)"/>
<path d="M895.5 872 C896.38 867.34 899.2 852.47 900.8 844.02 C902.4 835.58 903.8 828.65 905.1 821.33 C906.4 814 907.43 807.38 908.6 800.05 C909.77 792.72 910.82 784.78 912.1 777.33 C913.38 769.87 914.8 762.55 916.3 755.33 C917.8 748.1 919.52 740.84 921.1 733.98 C922.68 727.11 924.27 720.52 925.8 714.15 C927.33 707.78 928.7 702.15 930.3 695.75 C931.9 689.35 933.35 682.87 935.37 675.72 C937.4 668.57 939.81 660.57 942.45 652.85 C945.09 645.13 948.35 636.79 951.22 629.4 C954.1 622.01 958.29 611.98 959.7 608.5" fill="none" stroke="#000" stroke-width="3.8" stroke-linecap="butt" stroke-linejoin="round" clip-path="url(#cl4)"/>
<rect x="934.5" y="813.5" width="105.5" height="57.4" fill="#fff" stroke="#000" stroke-width="1.2"/>
<rect x="724.5" y="587.3" width="315.5" height="283.6" fill="none" stroke="#000" stroke-width="1.8"/>
<text x="937.2" y="831.1" font-size="11.9" textLength="93.44" lengthAdjust="spacing" fill="#000">Common source</text>
<text x="937.56" y="847.2" font-size="11.9" textLength="7.29" lengthAdjust="spacingAndGlyphs" fill="#000">T</text>
<text x="944.63" y="850.1" font-size="9.5" textLength="5.08" lengthAdjust="spacingAndGlyphs" fill="#000">a</text>
<text x="954.11" y="847.2" font-size="11.9" textLength="41.36" lengthAdjust="spacing" fill="#000">= 25 °C</text>
<text x="936.85" y="860.7" font-size="11.9" textLength="57.33" lengthAdjust="spacing" fill="#000">Pulse test</text>
<rect x="741.3" y="613" width="21.3" height="19" fill="#fff"/>
<text x="745.17" y="627" font-size="12.4" textLength="13.99" lengthAdjust="spacing" fill="#000">10</text>
<rect x="842.9" y="645.8" width="12.6" height="21.3" fill="#fff"/>
<text x="845.76" y="660.3" font-size="12.4" textLength="6.9" lengthAdjust="spacingAndGlyphs" fill="#000">3</text>
<rect x="803.2" y="674.8" width="24.2" height="16.5" fill="#fff"/>
<text x="806.45" y="687.4" font-size="12.4" textLength="17.55" lengthAdjust="spacing" fill="#000">4.5</text>
<line x1="806.9" y1="676.3" x2="774.2" y2="656" stroke="#000" stroke-width="1.7"/>
<path d="M783 656.99 L774.2 656 L778.99 663.45" fill="none" stroke="#000" stroke-width="1.7"/>
<rect x="861.3" y="725" width="13.5" height="17.6" fill="#fff"/>
<text x="863.97" y="737.7" font-size="12.4" textLength="6.9" lengthAdjust="spacingAndGlyphs" fill="#000">1</text>
<rect x="936" y="737" width="61.3" height="23" fill="#fff"/>
<text x="942.14" y="751.9" font-size="11.6" textLength="7.53" lengthAdjust="spacingAndGlyphs" fill="#000">V</text>
<text x="949.67" y="754.9" font-size="9" textLength="12.65" lengthAdjust="spacingAndGlyphs" fill="#000">GS</text>
<text x="966.22" y="751.9" font-size="11.6" textLength="26.67" lengthAdjust="spacingAndGlyphs" fill="#000">= 0 V</text>
<text x="694.31" y="591.4" font-size="12.2" textLength="20.36" lengthAdjust="spacing" fill="#000">100</text>
<text x="701.09" y="685.93" font-size="12.2" textLength="13.57" lengthAdjust="spacing" fill="#000">10</text>
<text x="707.98" y="780.47" font-size="12.2" textLength="6.79" lengthAdjust="spacingAndGlyphs" fill="#000">1</text>
<text x="697.79" y="875" font-size="12.2" textLength="16.96" lengthAdjust="spacing" fill="#000">0.1</text>
<text x="721.08" y="887.8" font-size="12.2" textLength="6.79" lengthAdjust="spacingAndGlyphs" fill="#000">0</text>
<text x="766.62" y="887.8" font-size="12.2" textLength="21.02" lengthAdjust="spacing" fill="#000">-0.2</text>
<text x="819.08" y="887.8" font-size="12.2" textLength="21.02" lengthAdjust="spacingAndGlyphs" fill="#000">-0.4</text>
<text x="871.73" y="887.8" font-size="12.2" textLength="21.02" lengthAdjust="spacingAndGlyphs" fill="#000">-0.6</text>
<text x="924.31" y="887.8" font-size="12.2" textLength="21.02" lengthAdjust="spacingAndGlyphs" fill="#000">-0.8</text>
<text x="976.86" y="887.8" font-size="12.2" textLength="21.02" lengthAdjust="spacing" fill="#000">-1.0</text>
<text x="1029.54" y="887.8" font-size="12.2" textLength="21.02" lengthAdjust="spacingAndGlyphs" fill="#000">-1.2</text>
<g transform="rotate(-90)">
<text x="-847" y="670" font-size="16.2" textLength="62.2" lengthAdjust="spacing" fill="#000">Reverse</text>
<text x="-777.65" y="670" font-size="16.2" textLength="37.88" lengthAdjust="spacing" fill="#000">drain</text>
<text x="-732.85" y="670" font-size="16.2" textLength="52.57" lengthAdjust="spacing" fill="#000">current</text>
<text x="-668.13" y="670" font-size="16.2" textLength="4.5" lengthAdjust="spacingAndGlyphs" fill="#000">I</text>
<text x="-664.02" y="673.8" font-size="12.8" textLength="18.45" lengthAdjust="spacingAndGlyphs" fill="#000">DR</text>
<text x="-634.07" y="670" font-size="16.2" textLength="23.09" lengthAdjust="spacing" fill="#000">(A)</text>
</g>
<text x="764.3" y="918.2" font-size="16.2" textLength="98.81" lengthAdjust="spacing" fill="#000">Drain-source</text>
<text x="869.82" y="918.2" font-size="16.2" textLength="55.2" lengthAdjust="spacing" fill="#000">voltage</text>
<text x="936.92" y="918.2" font-size="16.2" textLength="11.1" lengthAdjust="spacingAndGlyphs" fill="#000">V</text>
<text x="948.08" y="922.2" font-size="12.8" textLength="18.15" lengthAdjust="spacing" fill="#000">DS</text>
<text x="975.73" y="918.2" font-size="16.2" textLength="24.19" lengthAdjust="spacing" fill="#000">(V)</text>
<text x="787.54" y="951.6" font-size="20.5" font-weight="bold" textLength="34.36" lengthAdjust="spacingAndGlyphs" fill="#000">Fig.</text>
<text x="827.68" y="951.6" font-size="20.5" font-weight="bold" textLength="41.26" lengthAdjust="spacing" fill="#000">8.10</text>
<text x="889.53" y="951.6" font-size="20.5" font-weight="bold" textLength="5.7" lengthAdjust="spacingAndGlyphs" fill="#000">I</text>
<text x="894.94" y="954.9" font-size="16.3" font-weight="bold" textLength="24.36" lengthAdjust="spacing" fill="#000">DR</text>
<text x="925.12" y="951.6" font-size="20.5" font-weight="bold" textLength="7.31" lengthAdjust="spacingAndGlyphs" fill="#000">-</text>
<text x="936.48" y="951.6" font-size="20.5" font-weight="bold" textLength="15.58" lengthAdjust="spacingAndGlyphs" fill="#000">V</text>
<text x="951.14" y="954.9" font-size="16.3" font-weight="bold" textLength="23.4" lengthAdjust="spacing" fill="#000">DS</text>
<line x1="243.7" y1="1263.98" x2="558.5" y2="1263.98" stroke="#000" stroke-width="1"/>
<line x1="243.7" y1="1207.14" x2="558.5" y2="1207.14" stroke="#000" stroke-width="1"/>
<line x1="243.7" y1="1150.3" x2="558.5" y2="1150.3" stroke="#000" stroke-width="1"/>
<line x1="243.7" y1="1093.46" x2="558.5" y2="1093.46" stroke="#000" stroke-width="1"/>
<line x1="243.7" y1="1036.62" x2="558.5" y2="1036.62" stroke="#000" stroke-width="1"/>
<line x1="243.7" y1="1008.2" x2="243.7" y2="1292.4" stroke="#000" stroke-width="1.6"/>
<line x1="288.67" y1="1008.2" x2="288.67" y2="1292.4" stroke="#000" stroke-width="1.6"/>
<line x1="333.64" y1="1008.2" x2="333.64" y2="1292.4" stroke="#000" stroke-width="1.6"/>
<line x1="378.61" y1="1008.2" x2="378.61" y2="1292.4" stroke="#000" stroke-width="1.6"/>
<line x1="423.59" y1="1008.2" x2="423.59" y2="1292.4" stroke="#000" stroke-width="1.6"/>
<line x1="468.56" y1="1008.2" x2="468.56" y2="1292.4" stroke="#000" stroke-width="1.6"/>
<line x1="513.53" y1="1008.2" x2="513.53" y2="1292.4" stroke="#000" stroke-width="1.6"/>
<line x1="558.5" y1="1008.2" x2="558.5" y2="1292.4" stroke="#000" stroke-width="1.6"/>
<line x1="243.7" y1="1292.4" x2="558.5" y2="1292.4" stroke="#000" stroke-width="1.6"/>
<line x1="243.7" y1="1235.56" x2="558.5" y2="1235.56" stroke="#000" stroke-width="1.6"/>
<line x1="243.7" y1="1178.72" x2="558.5" y2="1178.72" stroke="#000" stroke-width="1.6"/>
<line x1="243.7" y1="1121.88" x2="558.5" y2="1121.88" stroke="#000" stroke-width="1.6"/>
<line x1="243.7" y1="1065.04" x2="558.5" y2="1065.04" stroke="#000" stroke-width="1.6"/>
<line x1="243.7" y1="1008.2" x2="558.5" y2="1008.2" stroke="#000" stroke-width="1.6"/>
<rect x="243.7" y="1008.2" width="314.8" height="284.2" fill="none" stroke="#000" stroke-width="1.8"/>
<rect x="243.7" y="1008.2" width="133.8" height="84.4" fill="#fff" stroke="#000" stroke-width="1.2"/>
<rect x="243.7" y="1008.2" width="314.8" height="284.2" fill="none" stroke="#000" stroke-width="1.8"/>
<text x="264" y="1032" font-size="11.9" textLength="92.74" lengthAdjust="spacing" fill="#000">Common source</text>
<text x="282.43" y="1047.8" font-size="11.9" textLength="9.47" lengthAdjust="spacingAndGlyphs" fill="#000">V</text>
<text x="290.53" y="1050.5" font-size="9.5" textLength="13.7" lengthAdjust="spacingAndGlyphs" fill="#000">GS</text>
<text x="308.1" y="1047.8" font-size="11.9" textLength="29.99" lengthAdjust="spacing" fill="#000">= 0 V</text>
<text x="279.76" y="1063.8" font-size="11.9" textLength="3.31" lengthAdjust="spacingAndGlyphs" fill="#000">I</text>
<text x="283.53" y="1066.5" font-size="9.5" textLength="6.92" lengthAdjust="spacingAndGlyphs" fill="#000">D</text>
<text x="294.3" y="1063.8" font-size="11.9" textLength="46.82" lengthAdjust="spacing" fill="#000">= 10 mA</text>
<text x="281.55" y="1077.6" font-size="11.9" textLength="56.93" lengthAdjust="spacing" fill="#000">Pulse test</text>
<path d="M270.8 1163.9 C281.23 1163.07 315.45 1160.3 333.4 1158.9 C351.35 1157.5 363.45 1156.55 378.5 1155.5 C393.55 1154.45 408.77 1153.38 423.7 1152.6 C438.63 1151.82 453.17 1151.48 468.1 1150.8 C483.03 1150.12 502.83 1149.03 513.3 1148.5 C523.77 1147.97 527.97 1147.75 530.9 1147.6" fill="none" stroke="#000" stroke-width="3.6" stroke-linecap="butt" stroke-linejoin="round"/>
<text x="227.26" y="1296.5" font-size="12.2" textLength="6.79" lengthAdjust="spacingAndGlyphs" fill="#000">0</text>
<text x="220.48" y="1239.66" font-size="12.2" textLength="13.57" lengthAdjust="spacingAndGlyphs" fill="#000">20</text>
<text x="220.48" y="1182.82" font-size="12.2" textLength="13.57" lengthAdjust="spacing" fill="#000">40</text>
<text x="220.48" y="1125.98" font-size="12.2" textLength="13.57" lengthAdjust="spacingAndGlyphs" fill="#000">60</text>
<text x="220.48" y="1069.14" font-size="12.2" textLength="13.57" lengthAdjust="spacing" fill="#000">80</text>
<text x="213.71" y="1012.3" font-size="12.2" textLength="20.36" lengthAdjust="spacing" fill="#000">100</text>
<text x="234.82" y="1309.6" font-size="12.2" textLength="17.63" lengthAdjust="spacing" fill="#000">-80</text>
<text x="279.8" y="1309.6" font-size="12.2" textLength="17.63" lengthAdjust="spacing" fill="#000">-40</text>
<text x="330.23" y="1309.6" font-size="12.2" textLength="6.79" lengthAdjust="spacingAndGlyphs" fill="#000">0</text>
<text x="371.93" y="1309.6" font-size="12.2" textLength="13.57" lengthAdjust="spacingAndGlyphs" fill="#000">40</text>
<text x="416.75" y="1309.6" font-size="12.2" textLength="13.57" lengthAdjust="spacing" fill="#000">80</text>
<text x="458.16" y="1309.6" font-size="12.2" textLength="20.36" lengthAdjust="spacing" fill="#000">120</text>
<text x="503.13" y="1309.6" font-size="12.2" textLength="20.36" lengthAdjust="spacing" fill="#000">160</text>
<text x="548.25" y="1309.6" font-size="12.2" textLength="20.36" lengthAdjust="spacing" fill="#000">200</text>
<g transform="rotate(-90)">
<text x="-1276.1" y="181.2" font-size="16.2" textLength="99.31" lengthAdjust="spacing" fill="#000">Drain-source</text>
<text x="-1170.15" y="181.2" font-size="16.2" textLength="83.04" lengthAdjust="spacing" fill="#000">breakdown</text>
<text x="-1079.18" y="181.2" font-size="16.2" textLength="53.8" lengthAdjust="spacing" fill="#000">voltage</text>
<text x="-1194.88" y="202.3" font-size="16.2" textLength="11.2" lengthAdjust="spacingAndGlyphs" fill="#000">V</text>
<text x="-1183.27" y="206.5" font-size="12.8" textLength="52.66" lengthAdjust="spacing" fill="#000">(BR)DSS</text>
<text x="-1118.67" y="202.3" font-size="16.2" textLength="22.69" lengthAdjust="spacing" fill="#000">(V)</text>
</g>
<text x="286.2" y="1340.2" font-size="16.2" textLength="61.34" lengthAdjust="spacing" fill="#000">Ambient</text>
<text x="354.86" y="1340.2" font-size="16.2" textLength="92" lengthAdjust="spacing" fill="#000">temperature</text>
<text x="456.69" y="1340.2" font-size="16.2" textLength="12.43" lengthAdjust="spacingAndGlyphs" fill="#000">T</text>
<text x="469.22" y="1344.4" font-size="12.8" textLength="6.7" lengthAdjust="spacingAndGlyphs" fill="#000">a</text>
<text x="486.88" y="1340.2" font-size="16.2" textLength="5.4" lengthAdjust="spacingAndGlyphs" fill="#000">(</text>
<text x="491.79" y="1331.9" font-size="8.5" textLength="4.73" lengthAdjust="spacingAndGlyphs" fill="#000">o</text>
<text x="495.92" y="1340.2" font-size="16.2" textLength="12.74" lengthAdjust="spacingAndGlyphs" fill="#000">C</text>
<text x="510.97" y="1340.2" font-size="16.2" textLength="5.4" lengthAdjust="spacingAndGlyphs" fill="#000">)</text>
<text x="288.02" y="1373.6" font-size="20.5" font-weight="bold" textLength="34.9" lengthAdjust="spacingAndGlyphs" fill="#000">Fig.</text>
<text x="327.8" y="1373.6" font-size="20.5" font-weight="bold" textLength="37.93" lengthAdjust="spacingAndGlyphs" fill="#000">8.11</text>
<text x="389.19" y="1373.6" font-size="20.5" font-weight="bold" textLength="14.87" lengthAdjust="spacingAndGlyphs" fill="#000">V</text>
<text x="403.38" y="1376.9" font-size="16.3" font-weight="bold" textLength="68.81" lengthAdjust="spacing" fill="#000">(BR)DSS</text>
<text x="477.33" y="1373.6" font-size="20.5" font-weight="bold" textLength="8.88" lengthAdjust="spacingAndGlyphs" fill="#000">-</text>
<text x="490.77" y="1373.6" font-size="20.5" font-weight="bold" textLength="13.98" lengthAdjust="spacingAndGlyphs" fill="#000">T</text>
<text x="504.4" y="1376.9" font-size="16.3" font-weight="bold" textLength="7.38" lengthAdjust="spacingAndGlyphs" fill="#000">a</text>
<line x1="750.76" y1="1008" x2="750.76" y2="1292.3" stroke="#000" stroke-width="1"/>
<line x1="803.27" y1="1008" x2="803.27" y2="1292.3" stroke="#000" stroke-width="1"/>
<line x1="855.79" y1="1008" x2="855.79" y2="1292.3" stroke="#000" stroke-width="1"/>
<line x1="908.31" y1="1008" x2="908.31" y2="1292.3" stroke="#000" stroke-width="1"/>
<line x1="960.82" y1="1008" x2="960.82" y2="1292.3" stroke="#000" stroke-width="1"/>
<line x1="1013.34" y1="1008" x2="1013.34" y2="1292.3" stroke="#000" stroke-width="1"/>
<line x1="724.5" y1="1256.76" x2="1039.6" y2="1256.76" stroke="#000" stroke-width="1"/>
<line x1="724.5" y1="1185.69" x2="1039.6" y2="1185.69" stroke="#000" stroke-width="1"/>
<line x1="724.5" y1="1114.61" x2="1039.6" y2="1114.61" stroke="#000" stroke-width="1"/>
<line x1="724.5" y1="1043.54" x2="1039.6" y2="1043.54" stroke="#000" stroke-width="1"/>
<line x1="724.5" y1="1008" x2="724.5" y2="1292.3" stroke="#000" stroke-width="1.6"/>
<line x1="777.02" y1="1008" x2="777.02" y2="1292.3" stroke="#000" stroke-width="1.6"/>
<line x1="829.53" y1="1008" x2="829.53" y2="1292.3" stroke="#000" stroke-width="1.6"/>
<line x1="882.05" y1="1008" x2="882.05" y2="1292.3" stroke="#000" stroke-width="1.6"/>
<line x1="934.57" y1="1008" x2="934.57" y2="1292.3" stroke="#000" stroke-width="1.6"/>
<line x1="987.08" y1="1008" x2="987.08" y2="1292.3" stroke="#000" stroke-width="1.6"/>
<line x1="1039.6" y1="1008" x2="1039.6" y2="1292.3" stroke="#000" stroke-width="1.6"/>
<line x1="724.5" y1="1292.3" x2="1039.6" y2="1292.3" stroke="#000" stroke-width="1.6"/>
<line x1="724.5" y1="1221.22" x2="1039.6" y2="1221.22" stroke="#000" stroke-width="1.6"/>
<line x1="724.5" y1="1150.15" x2="1039.6" y2="1150.15" stroke="#000" stroke-width="1.6"/>
<line x1="724.5" y1="1079.08" x2="1039.6" y2="1079.08" stroke="#000" stroke-width="1.6"/>
<line x1="724.5" y1="1008" x2="1039.6" y2="1008" stroke="#000" stroke-width="1.6"/>
<rect x="724.5" y="1008" width="315.1" height="284.3" fill="none" stroke="#000" stroke-width="1.8"/>
<rect x="934.7" y="1008" width="104.9" height="70.8" fill="#fff" stroke="#000" stroke-width="1.2"/>
<rect x="724.5" y="1008" width="315.1" height="284.3" fill="none" stroke="#000" stroke-width="1.8"/>
<text x="939.5" y="1024.8" font-size="11.9" textLength="93.24" lengthAdjust="spacing" fill="#000">Common source</text>
<text x="954.83" y="1040.5" font-size="11.9" textLength="9.06" lengthAdjust="spacingAndGlyphs" fill="#000">V</text>
<text x="962.64" y="1043.4" font-size="9.5" textLength="13.43" lengthAdjust="spacing" fill="#000">DS</text>
<text x="980.11" y="1040.5" font-size="11.9" textLength="37.1" lengthAdjust="spacing" fill="#000">= 10 V</text>
<text x="953.46" y="1056.6" font-size="11.9" textLength="3.31" lengthAdjust="spacingAndGlyphs" fill="#000">I</text>
<text x="957.11" y="1059.1" font-size="9.5" textLength="7.16" lengthAdjust="spacingAndGlyphs" fill="#000">D</text>
<text x="967.8" y="1056.6" font-size="11.9" textLength="50.99" lengthAdjust="spacing" fill="#000">= 0.2 mA</text>
<text x="957.35" y="1070.1" font-size="11.9" textLength="56.93" lengthAdjust="spacing" fill="#000">Pulse test</text>
<path d="M771.3 1125.7 C776.42 1127.13 792.29 1131.5 802 1134.27 C811.71 1137.05 820.64 1139.6 829.58 1142.33 C838.51 1145.05 846.87 1147.72 855.6 1150.6 C864.33 1153.47 873.15 1156.49 881.97 1159.58 C890.8 1162.66 899.73 1165.7 908.53 1169.1 C917.32 1172.5 926.03 1175.99 934.75 1179.97 C943.47 1183.96 952.11 1188.49 960.82 1193.03 C969.54 1197.56 978.3 1202.51 987.03 1207.17 C995.75 1211.84 1008.84 1218.7 1013.2 1221" fill="none" stroke="#000" stroke-width="3.6" stroke-linecap="butt" stroke-linejoin="round"/>
<text x="707.96" y="1296.4" font-size="12.2" textLength="6.79" lengthAdjust="spacingAndGlyphs" fill="#000">0</text>
<text x="708.08" y="1225.32" font-size="12.2" textLength="6.79" lengthAdjust="spacingAndGlyphs" fill="#000">1</text>
<text x="708.14" y="1154.25" font-size="12.2" textLength="6.79" lengthAdjust="spacingAndGlyphs" fill="#000">2</text>
<text x="708.02" y="1083.17" font-size="12.2" textLength="6.79" lengthAdjust="spacingAndGlyphs" fill="#000">3</text>
<text x="707.89" y="1012.1" font-size="12.2" textLength="6.79" lengthAdjust="spacingAndGlyphs" fill="#000">4</text>
<text x="710.74" y="1309.9" font-size="12.2" textLength="24.42" lengthAdjust="spacingAndGlyphs" fill="#000">-100</text>
<text x="766.64" y="1309.9" font-size="12.2" textLength="17.63" lengthAdjust="spacing" fill="#000">-50</text>
<text x="824.62" y="1309.9" font-size="12.2" textLength="6.79" lengthAdjust="spacingAndGlyphs" fill="#000">0</text>
<text x="873.75" y="1309.9" font-size="12.2" textLength="13.57" lengthAdjust="spacingAndGlyphs" fill="#000">50</text>
<text x="922.67" y="1309.9" font-size="12.2" textLength="20.36" lengthAdjust="spacing" fill="#000">100</text>
<text x="975.18" y="1309.9" font-size="12.2" textLength="20.36" lengthAdjust="spacing" fill="#000">150</text>
<text x="1027.85" y="1309.9" font-size="12.2" textLength="20.36" lengthAdjust="spacingAndGlyphs" fill="#000">200</text>
<g transform="rotate(-90)">
<text x="-1273.41" y="669.9" font-size="16.2" textLength="37.79" lengthAdjust="spacing" fill="#000">Gate</text>
<text x="-1229.24" y="669.9" font-size="16.2" textLength="70.28" lengthAdjust="spacing" fill="#000">threshold</text>
<text x="-1151.88" y="669.9" font-size="16.2" textLength="54.6" lengthAdjust="spacing" fill="#000">voltage</text>
<text x="-1084.98" y="669.9" font-size="16.2" textLength="11" lengthAdjust="spacingAndGlyphs" fill="#000">V</text>
<text x="-1074.09" y="673.7" font-size="12.8" textLength="11.81" lengthAdjust="spacing" fill="#000">th</text>
<text x="-1051.77" y="669.9" font-size="16.2" textLength="23.29" lengthAdjust="spacing" fill="#000">(V)</text>
</g>
<text x="766.9" y="1339.8" font-size="16.2" textLength="61.34" lengthAdjust="spacing" fill="#000">Ambient</text>
<text x="835.56" y="1339.8" font-size="16.2" textLength="92" lengthAdjust="spacing" fill="#000">temperature</text>
<text x="937.39" y="1339.8" font-size="16.2" textLength="12.43" lengthAdjust="spacingAndGlyphs" fill="#000">T</text>
<text x="949.92" y="1344" font-size="12.8" textLength="6.7" lengthAdjust="spacingAndGlyphs" fill="#000">a</text>
<text x="967.58" y="1339.8" font-size="16.2" textLength="5.4" lengthAdjust="spacingAndGlyphs" fill="#000">(</text>
<text x="972.49" y="1331.5" font-size="8.5" textLength="4.73" lengthAdjust="spacingAndGlyphs" fill="#000">o</text>
<text x="976.62" y="1339.8" font-size="16.2" textLength="12.74" lengthAdjust="spacingAndGlyphs" fill="#000">C</text>
<text x="991.67" y="1339.8" font-size="16.2" textLength="5.4" lengthAdjust="spacingAndGlyphs" fill="#000">)</text>
<text x="796.12" y="1373.7" font-size="20.5" font-weight="bold" textLength="35.01" lengthAdjust="spacingAndGlyphs" fill="#000">Fig.</text>
<text x="836.09" y="1373.7" font-size="20.5" font-weight="bold" textLength="41.36" lengthAdjust="spacing" fill="#000">8.12</text>
<text x="897.89" y="1373.7" font-size="20.5" font-weight="bold" textLength="14.87" lengthAdjust="spacingAndGlyphs" fill="#000">V</text>
<text x="912.75" y="1377" font-size="16.3" font-weight="bold" textLength="13.7" lengthAdjust="spacingAndGlyphs" fill="#000">th</text>
<text x="931.65" y="1373.7" font-size="20.5" font-weight="bold" textLength="7.05" lengthAdjust="spacingAndGlyphs" fill="#000">-</text>
<text x="943.78" y="1373.7" font-size="20.5" font-weight="bold" textLength="13.46" lengthAdjust="spacingAndGlyphs" fill="#000">T</text>
<text x="956.84" y="1377" font-size="16.3" font-weight="bold" textLength="8.52" lengthAdjust="spacingAndGlyphs" fill="#000">a</text>
</svg></body></html>
